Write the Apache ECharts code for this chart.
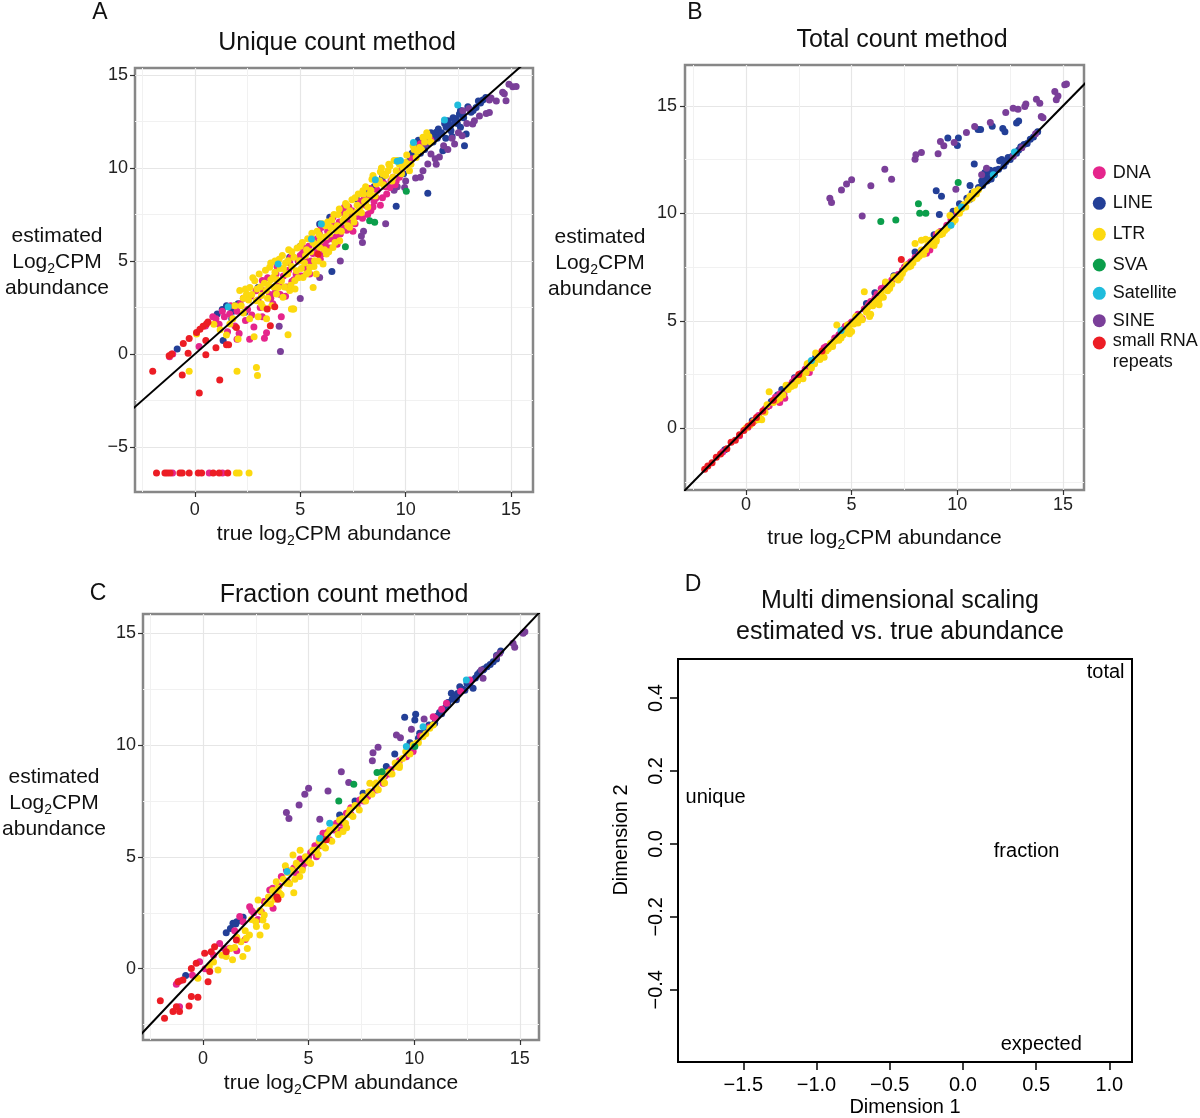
<!DOCTYPE html>
<html><head><meta charset="utf-8">
<script src="https://cdn.jsdelivr.net/npm/echarts@6/dist/echarts.min.js"></script>
<style>html,body{margin:0;padding:0;background:#fff}#c{width:1200px;height:1118px}</style>
</head><body><div id="c"></div>
<script>
// ---------- categories / colours ----------
const CATS = ['DNA','LINE','LTR','SVA','Satellite','SINE','small RNA repeats'];
const COLORS = ['#e5258c','#233f97','#fcd90f','#0b9e4b','#1fbcdc','#7a3f99','#ec1d25'];

// ---------- panel A : unique count method ----------
const uniqueDNA = [[-1.2,-0.15],[-1.05,0.0],[0.2,0.4],[0.85,2.0],[1.15,1.6],[1.65,2.15],[1.9,1.5],[2.0,2.3],[2.3,3.0],[2.5,2.4],[2.8,1.45],[3.3,0.85],[3.4,1.15],[4.1,2.0],[2.9,3.4],[3.2,3.95],[3.55,3.2],[3.85,4.3],[4.0,3.7],[4.35,3.6],[4.5,4.9],[4.8,4.3],[5.0,5.3],[5.1,5.4],[5.3,4.6],[5.5,5.0],[5.75,5.7],[5.9,6.5],[6.1,5.4],[6.25,6.1],[6.4,5.7],[6.55,7.35],[6.7,6.3],[6.9,6.45],[7.05,7.6],[7.2,6.65],[7.4,7.35],[7.6,7.0],[7.8,7.9],[8.0,8.3],[8.2,7.5],[8.45,7.9],[8.6,8.4],[8.9,8.4],[9.05,9.0],[9.25,8.95],[9.4,9.5],[9.55,9.3],[1.3,2.3],[2.1,1.1],[3.0,2.9],[3.7,2.7],[4.6,3.9],[5.6,4.9],[6.0,6.8],[7.3,7.9],[8.3,8.9],[9.7,9.5],[10.3,10.5],[10.7,11.3],[11.2,11.5],[1.0,1.9],[1.4,2.0],[1.55,1.2],[2.15,2.7],[2.4,1.8],[2.65,3.1],[2.7,2.1],[3.1,2.5],[3.25,3.4],[3.45,4.1],[3.6,3.0],[3.8,3.3],[3.9,4.7],[4.05,3.2],[4.2,4.2],[4.3,3.1],[4.45,4.5],[4.55,5.2],[4.7,4.0],[4.9,5.0],[5.05,4.2],[5.15,5.7],[5.25,5.0],[5.4,5.8],[5.45,4.3],[5.6,5.4],[5.8,6.2],[5.95,5.1],[6.05,6.0],[6.2,5.8],[6.3,6.6],[6.45,6.2],[6.6,6.9],[6.75,5.9],[6.85,7.1],[7.0,6.8],[7.1,7.9],[7.3,7.1],[7.45,7.7],[7.5,6.6],[7.7,7.4],[7.85,8.2],[7.95,7.3],[8.1,8.0],[8.25,8.5],[8.35,7.7],[8.5,8.2],[8.65,8.8],[8.8,8.0],[8.95,9.2],[9.1,8.6],[9.3,9.3],[9.5,9.1],[9.8,9.9],[10.1,10.2],[1.7,2.6],[2.0,0.8],[2.6,0.8],[0.5,1.5],[3.2,2.0],[-1.06,-6.4],[0.68,-6.4],[1.31,-6.4]];
const uniqueLINE = [[-0.84,0.27],[1.06,2.15],[1.34,0.72],[1.5,2.6],[1.66,2.51],[1.9,2.6],[2.05,2.7],[2.37,2.24],[3.0,3.58],[4.5,5.2],[5.0,5.8],[5.92,6.99],[6.4,7.35],[6.5,4.44],[7.66,8.33],[8.26,8.69],[9.55,7.94],[9.9,9.7],[10.18,10.39],[10.5,10.93],[10.82,11.29],[11.05,8.64],[11.13,11.65],[11.29,11.74],[11.45,11.92],[11.6,11.85],[11.76,10.93],[11.92,12.19],[12.05,12.3],[12.15,12.0],[12.32,12.46],[12.4,12.65],[12.55,12.9],[12.79,11.2],[12.87,11.83],[13.1,13.0],[13.34,13.26],[13.66,13.66],[12.7,12.85],[11.3,11.4],[10.9,11.0],[11.5,11.6],[12.0,12.55],[10.6,11.5],[10.3,10.8],[8.9,9.5],[8.5,9.0],[10.4,10.6],[10.55,11.1],[10.7,10.8],[10.85,11.5],[11.0,11.3],[11.2,11.9],[11.35,11.6],[11.55,12.1],[11.7,11.9],[11.85,12.4],[12.1,12.2],[12.25,12.7],[12.45,12.4],[12.6,13.1],[12.75,12.7],[12.95,13.3],[13.2,13.1],[13.45,13.6],[13.55,13.5],[13.8,13.8],[12.2,11.7],[11.9,11.6],[12.6,12.2],[1.8,2.3],[1.3,2.4],[1.75,1.9]];
const uniqueLTR = [[2.13,3.41],[2.45,3.23],[2.61,3.58],[2.84,3.94],[2.92,2.87],[3.16,3.14],[3.24,2.51],[3.39,3.41],[3.55,4.66],[3.71,4.12],[3.87,3.23],[3.95,3.58],[4.11,3.94],[4.18,3.05],[4.34,4.3],[4.42,5.02],[4.5,3.41],[4.66,2.42],[4.74,3.94],[4.82,4.48],[4.97,5.02],[5.13,4.12],[5.29,4.3],[5.45,4.66],[5.61,3.58],[5.68,5.02],[5.76,4.3],[5.92,5.73],[6.08,4.84],[6.24,5.38],[6.4,6.45],[6.55,5.73],[6.71,6.63],[6.87,6.09],[7.03,7.17],[7.18,7.53],[7.34,6.81],[7.5,7.35],[7.66,7.62],[7.82,7.89],[7.97,8.78],[8.13,8.24],[8.29,8.6],[8.61,9.14],[8.76,9.32],[8.92,9.68],[9.16,9.86],[9.4,9.5],[9.55,9.86],[9.87,10.04],[10.18,9.86],[10.5,10.57],[10.66,11.11],[10.82,11.65],[-0.27,-0.93],[2.0,-0.93],[2.92,-0.72],[2.97,-1.15],[2.81,0.93],[2.05,0.81],[4.42,1.04],[4.58,2.42],[4.69,2.42],[1.5,1.02],[0.08,1.08],[1.8,1.9],[2.3,2.2],[2.6,1.9],[3.0,2.0],[3.4,1.9],[1.9,2.6],[2.3,3.0],[3.1,3.6],[3.6,4.0],[3.8,4.4],[4.2,4.6],[4.0,5.1],[4.6,5.5],[5.0,5.8],[5.3,5.6],[5.6,6.0],[5.9,6.4],[6.2,6.9],[6.5,7.2],[6.8,7.5],[7.2,8.0],[7.6,8.4],[8.0,8.6],[8.4,9.4],[8.8,9.8],[9.2,10.2],[9.6,10.4],[10.0,10.3],[10.4,11.0],[11.0,11.9],[11.2,11.4],[1.66,1.61],[1.2,1.3],[0.9,1.6],[2.2,2.6],[2.4,3.5],[2.55,2.9],[2.7,3.2],[2.75,4.1],[2.95,3.5],[3.05,4.3],[3.15,2.7],[3.3,3.8],[3.35,4.5],[3.45,3.0],[3.5,3.7],[3.6,4.9],[3.65,2.6],[3.75,3.6],[3.8,5.0],[3.9,4.0],[4.05,4.6],[4.15,5.3],[4.25,3.6],[4.3,4.9],[4.4,4.3],[4.45,5.6],[4.55,3.7],[4.6,4.7],[4.7,5.2],[4.75,3.5],[4.85,5.7],[4.9,4.1],[5.05,4.6],[5.1,6.0],[5.2,4.9],[5.25,5.3],[5.35,6.2],[5.4,4.4],[5.5,5.5],[5.55,6.5],[5.65,4.7],[5.7,5.9],[5.8,6.6],[5.85,5.0],[5.95,6.1],[6.05,7.0],[6.15,5.6],[6.2,6.3],[6.3,7.1],[6.35,5.5],[6.45,6.8],[6.6,7.5],[6.65,6.0],[6.75,6.9],[6.85,7.8],[6.95,6.6],[7.1,7.3],[7.15,8.1],[7.25,6.9],[7.35,7.7],[7.45,8.3],[7.55,7.1],[7.7,8.0],[7.75,8.6],[7.9,7.6],[8.05,8.2],[8.1,9.0],[8.2,7.9],[8.35,8.8],[8.45,9.6],[8.55,8.5],[8.7,9.2],[8.85,10.0],[8.95,9.1],[9.05,9.6],[9.25,10.1],[9.35,9.3],[9.45,10.4],[9.7,10.2],[9.8,9.7],[10.05,10.7],[10.25,10.2],[10.35,11.2],[10.55,10.9],[10.75,11.0],[10.9,11.4],[11.1,11.7],[1.97,-6.4],[2.1,-6.4],[2.57,-6.4]];
const uniqueSVA = [[7.14,5.77],[8.29,7.17],[8.53,7.08],[10.03,8.75]];
const uniqueSAT = [[1.58,2.54],[3.95,4.84],[5.53,6.18],[6.0,6.99],[8.56,9.37],[9.6,10.36],[9.75,10.4],[10.37,11.38],[11.84,12.58],[12.47,13.39]];
const uniqueSINE = [[4.06,0.14],[4.0,1.49],[5.0,2.99],[5.92,4.12],[6.9,5.0],[7.9,6.35],[7.95,6.0],[8.0,6.6],[9.05,7.0],[9.95,8.96],[10.0,9.3],[10.47,9.46],[10.82,9.86],[11.05,10.22],[11.4,10.5],[11.6,10.6],[10.94,11.29],[11.2,10.75],[12.32,11.29],[12.68,11.74],[12.71,13.08],[13.0,13.2],[13.18,12.37],[13.26,12.55],[13.82,12.94],[13.97,12.99],[13.97,13.66],[14.05,13.77],[14.6,14.07],[14.68,14.0],[14.76,13.62],[15.08,14.37],[15.24,14.39],[9.6,9.0],[9.45,8.8],[11.8,11.2],[12.0,11.0],[12.2,11.6],[12.5,11.9],[13.5,12.8],[12.9,12.4],[11.45,10.2],[10.7,9.5],[14.3,13.6],[14.9,14.5]];
const uniqueRNA = [[-2.0,-0.93],[-1.22,-0.09],[-1.1,0.0],[-0.55,0.57],[-0.27,0.84],[0.08,1.16],[0.24,1.33],[0.39,1.49],[0.55,1.61],[0.62,1.72],[-0.32,0.04],[-0.6,-1.13],[0.21,-2.1],[0.52,-0.04],[0.52,0.72],[1.0,0.34],[1.18,-1.4],[1.5,0.5],[1.6,0.5],[1.97,1.43],[3.43,2.42],[3.58,1.52],[3.79,2.54],[5.84,5.38],[-1.82,-6.4],[-1.42,-6.4],[-1.31,-6.4],[-1.18,-6.4],[-0.71,-6.4],[-0.6,-6.4],[-0.27,-6.4],[0.16,-6.4],[0.32,-6.4],[0.87,-6.4],[1.15,-6.4],[1.56,-6.4]];

// ---------- panel B : total count method ----------
const totalDNA = [[-1.1,-1.1],[-0.3,-0.35],[0.4,0.35],[0.9,0.9],[1.4,1.45],[1.8,1.6],[1.84,1.4],[2.0,2.0],[2.3,2.3],[2.6,2.55],[2.9,2.95],[3.2,3.1],[3.5,3.45],[3.8,3.8],[4.1,4.0],[4.4,4.35],[4.7,4.75],[5.0,4.95],[5.3,5.3],[5.6,5.55],[5.9,5.9],[6.2,6.25],[6.4,6.5],[6.6,6.7],[6.9,6.9],[7.2,7.15],[7.5,7.5],[7.8,7.75],[8.0,7.95],[8.2,8.1],[8.4,8.2],[8.54,8.14],[8.6,8.35],[9.0,9.0],[9.5,9.45],[1.6,1.2],[3.0,2.6],[5.5,5.1],[0.1,0.05],[0.6,0.6],[1.1,1.05],[1.6,1.6],[2.2,2.15],[2.8,2.75],[3.4,3.35],[3.7,3.75],[4.2,4.2],[4.5,4.45],[4.9,4.85],[5.2,5.15],[5.8,5.75],[6.1,6.05],[6.7,6.6],[7.1,7.05],[7.4,7.35],[7.7,7.65],[8.3,8.15],[8.5,8.2],[8.7,8.3],[8.8,8.6],[9.2,9.15],[9.7,9.7],[10.0,10.0]];
const totalLINE = [[-1.0,-1.0],[0.3,0.35],[1.2,1.25],[1.5,1.55],[1.7,1.8],[2.3,2.35],[6.1,6.3],[8.0,8.2],[9.0,11.05],[9.25,10.8],[9.15,9.95],[9.55,13.5],[10.0,13.15],[10.05,13.5],[10.8,12.3],[10.98,13.9],[11.1,13.9],[11.65,14.05],[12.15,13.95],[12.25,13.8],[12.8,14.2],[12.9,14.3],[9.8,10.1],[10.1,10.45],[10.45,10.7],[10.7,10.95],[11.0,11.2],[11.25,11.65],[11.35,11.8],[11.5,11.75],[11.6,11.6],[11.8,12.0],[12.0,12.45],[12.2,12.2],[12.5,12.5],[12.8,12.8],[13.0,13.1],[13.3,13.25],[13.6,13.55],[11.4,11.5],[11.7,11.85],[12.4,12.6],[10.3,10.35],[10.6,10.65],[10.9,11.0],[11.2,11.3],[11.45,11.55],[11.75,11.8],[11.95,12.05],[12.3,12.4],[12.6,12.65],[12.9,12.95],[13.15,13.2],[13.45,13.45],[13.8,13.8],[11.15,11.5],[11.3,11.9],[11.55,12.0],[12.1,12.5],[10.6,11.3],[1.0,1.0],[3.3,3.3],[4.6,4.6],[5.7,5.8],[7.0,7.1],[8.9,9.0]];
const totalLTR = [[0.2,0.15],[0.7,0.45],[0.75,0.4],[1.1,1.7],[1.3,1.2],[1.6,1.4],[2.0,1.8],[2.3,2.0],[2.6,2.4],[2.7,2.3],[3.1,2.8],[3.3,3.5],[3.5,3.2],[3.8,3.6],[4.1,3.8],[4.3,4.8],[4.5,4.2],[4.6,4.35],[4.9,4.6],[5.0,4.5],[5.3,4.9],[5.5,5.05],[5.6,6.35],[5.85,5.2],[6.0,5.7],[6.3,6.0],[6.5,6.1],[6.6,6.8],[6.8,6.5],[7.0,7.05],[7.2,6.9],[7.5,7.4],[7.7,7.5],[8.0,8.6],[8.1,7.9],[8.4,8.1],[8.7,8.75],[8.9,8.5],[9.2,9.0],[9.3,9.05],[9.6,9.4],[9.65,9.9],[9.9,9.7],[10.0,10.15],[10.3,10.4],[10.6,10.8],[10.8,11.0],[3.7,3.3],[4.0,3.95],[5.2,5.0],[2.9,3.0],[1.9,2.0],[0.0,0.0],[0.35,0.3],[0.55,0.4],[0.9,0.75],[1.0,1.1],[1.45,1.3],[1.75,1.55],[2.15,1.95],[2.45,2.2],[2.85,2.6],[3.0,3.05],[3.25,3.0],[3.4,3.3],[3.6,3.5],[3.9,3.7],[4.2,4.05],[4.4,4.1],[4.7,4.45],[4.8,4.8],[5.1,4.85],[5.2,5.2],[5.4,5.2],[5.7,5.4],[5.75,5.6],[6.1,5.9],[6.2,5.85],[6.4,6.3],[6.7,6.4],[6.9,6.7],[7.1,7.0],[7.3,7.0],[7.4,7.2],[7.6,7.6],[7.8,7.55],[7.9,7.7],[8.2,8.0],[8.3,8.3],[8.5,8.3],[8.6,8.5],[8.8,8.6],[9.0,8.8],[9.1,9.1],[9.4,9.2],[9.5,9.3],[9.8,9.6],[10.1,10.0],[10.2,10.2],[10.4,10.3],[10.5,10.6],[10.7,10.7],[10.9,10.9],[11.0,11.1],[8.3,8.75],[8.5,8.8],[4.9,4.4],[5.9,5.3],[6.3,5.75],[9.0,8.7]];
const totalSVA = [[6.38,9.62],[7.09,9.69],[8.16,10.44],[8.22,10.0],[8.51,10.0],[10.04,11.43]];
const totalSAT = [[3.1,3.15],[4.5,4.55],[9.7,9.45],[10.2,10.3],[11.7,11.8],[12.7,12.85]];
const totalSINE = [[3.97,10.7],[4.05,10.5],[4.52,11.09],[4.76,11.37],[5.0,11.56],[5.5,9.88],[5.91,11.28],[6.57,12.05],[6.89,11.59],[8.0,12.52],[8.04,12.72],[8.3,12.83],[9.09,12.77],[9.2,13.34],[9.36,13.14],[9.85,13.29],[9.93,11.12],[10.43,13.76],[10.82,14.04],[11.38,12.1],[11.15,11.8],[11.56,14.22],[12.29,14.69],[12.64,14.89],[12.87,14.84],[13.19,14.97],[13.24,15.09],[13.74,15.31],[13.9,15.12],[13.97,14.5],[14.05,14.45],[14.61,15.67],[14.68,15.28],[14.76,15.46],[15.08,15.98],[15.16,16.02],[12.65,12.65],[13.05,13.05],[13.7,13.7]];
const totalRNA = [[-1.95,-1.9],[-1.8,-1.75],[-1.6,-1.6],[-1.4,-1.35],[-1.2,-1.2],[-0.9,-0.95],[-0.7,-0.65],[-0.5,-0.55],[-0.3,-0.3],[-0.1,-0.1],[0.1,0.1],[0.3,0.25],[0.5,0.5],[0.8,0.8],[1.3,1.3],[2.5,2.5],[3.6,3.6],[7.35,7.85]];

// ---------- panel C : fraction count method ----------
const fractionDNA = [[-1.26,-0.7],[-1.1,-0.55],[-1.11,-1.7],[-0.16,0.31],[0.79,1.13],[1.26,0.91],[1.74,2.33],[2.21,2.77],[2.76,2.55],[3.16,3.52],[3.32,2.7],[3.71,4.12],[3.95,4.41],[4.42,4.26],[4.82,4.71],[5.37,5.01],[5.68,6.05],[6.0,5.76],[6.32,6.5],[6.79,6.95],[7.42,7.54],[8.21,7.99],[8.53,8.29],[9.16,9.18],[9.63,9.48],[9.95,9.71],[10.9,11.27],[11.53,11.87],[12.63,12.91],[2.4,2.5],[3.5,3.2],[4.6,4.9],[5.1,5.2],[6.5,6.2],[7.0,7.2],[7.8,7.7],[8.8,8.7],[-0.5,-0.3],[0.1,0.0],[0.5,0.6],[1.0,0.9],[1.5,1.7],[1.9,2.1],[2.3,2.6],[2.6,2.2],[2.9,3.0],[3.3,3.6],[3.6,3.7],[4.0,3.9],[4.3,4.5],[4.7,4.5],[5.0,5.0],[5.3,5.5],[5.6,5.5],[5.9,6.1],[6.2,6.2],[6.6,6.5],[7.0,6.9],[7.3,7.3],[7.6,7.5],[7.9,7.9],[8.2,8.1],[8.6,8.6],[8.9,8.9],[9.3,9.3],[9.9,9.9],[10.3,10.4],[10.7,10.8],[11.0,11.2],[11.3,11.6],[12.2,12.4],[1.6,0.8],[2.0,1.3]];
const fractionLINE = [[-0.82,-0.31],[1.1,1.61],[1.42,2.03],[1.6,2.1],[1.82,2.18],[6.47,6.87],[7.58,7.84],[8.68,9.04],[9.08,9.6],[9.55,11.24],[10.07,11.38],[10.03,11.12],[10.26,10.53],[10.97,10.97],[11.1,11.3],[11.37,11.57],[11.76,12.32],[12.0,12.02],[12.16,12.61],[12.3,12.5],[12.63,12.69],[12.79,12.54],[13.26,13.36],[13.74,13.73],[11.2,11.45],[11.5,11.7],[11.9,12.15],[12.5,12.75],[12.9,13.0],[13.1,13.25],[13.45,13.5],[13.9,14.0],[10.5,10.7],[10.7,10.9],[11.0,11.15],[11.3,11.4],[11.6,11.9],[11.8,12.05],[12.05,12.3],[12.4,12.45],[12.7,12.9],[13.0,13.15],[13.3,13.4],[13.6,13.6],[13.9,13.85],[14.1,14.2],[10.2,10.3],[9.8,10.1],[1.3,1.8],[1.55,2.0],[1.9,2.3],[5.8,6.0],[7.2,7.5]];
const fractionLTR = [[-0.24,-0.43],[0.3,0.1],[0.71,-0.06],[1.1,0.54],[1.5,0.95],[1.89,0.54],[2.05,1.36],[2.2,1.5],[2.53,1.88],[2.61,3.07],[2.84,2.18],[3.0,2.92],[3.47,3.89],[3.63,3.37],[3.95,3.82],[4.26,5.08],[4.42,4.71],[4.58,4.12],[5.0,4.8],[5.37,5.31],[5.7,5.5],[6.0,6.2],[6.47,6.65],[6.63,6.13],[6.8,6.3],[6.95,7.1],[7.58,7.69],[7.9,8.29],[8.53,8.59],[9.16,9.04],[9.3,9.1],[10.1,10.08],[10.42,10.38],[10.74,10.75],[3.3,3.5],[4.0,4.3],[5.5,5.7],[8.2,8.3],[9.6,9.7],[0.5,0.3],[0.9,0.6],[1.3,0.9],[1.6,1.4],[1.8,1.2],[2.0,1.7],[2.3,2.2],[2.5,2.1],[2.7,2.6],[2.9,2.4],[3.1,3.2],[3.2,2.9],[3.4,3.1],[3.55,3.6],[3.7,3.3],[3.8,4.0],[4.1,3.8],[4.2,4.4],[4.35,4.0],[4.5,4.6],[4.7,4.4],[4.85,5.0],[5.1,4.7],[5.2,5.3],[5.45,5.1],[5.6,5.7],[5.8,5.4],[5.9,6.0],[6.1,5.7],[6.25,6.3],[6.4,6.0],[6.6,6.7],[6.75,6.5],[6.9,6.9],[7.1,6.8],[7.2,7.3],[7.4,7.1],[7.55,7.6],[7.7,7.5],[7.85,7.9],[8.0,7.8],[8.15,8.2],[8.3,8.0],[8.45,8.5],[8.6,8.3],[8.8,8.8],[8.95,8.7],[9.1,9.2],[9.3,9.0],[9.45,9.4],[9.8,9.6],[9.95,10.0],[10.2,10.1],[10.55,10.5],[10.9,10.9],[1.4,0.4],[2.1,0.9],[2.7,1.5],[3.0,1.9],[4.3,3.4],[3.9,4.6],[4.6,5.3]];
const fractionSVA = [[6.43,7.5],[7.14,8.25],[8.24,8.77],[8.48,8.81],[10.03,9.93]];
const fractionSAT = [[3.98,4.34],[5.53,5.83],[6.0,6.5],[9.63,9.93],[10.42,10.82],[12.47,12.91]];
const fractionSINE = [[3.95,6.98],[4.07,6.72],[4.55,7.32],[4.82,7.8],[5.0,8.07],[5.53,6.68],[5.92,7.95],[6.55,8.81],[6.9,8.33],[8.02,9.3],[8.05,9.66],[8.29,9.9],[9.16,10.45],[9.35,10.33],[9.87,10.71],[10.47,11.17],[13.18,13.36],[13.26,12.99],[13.9,13.96],[14.05,14.1],[14.68,14.55],[14.76,14.37],[15.16,15.0],[15.24,15.07]];
const fractionRNA = [[-2.02,-1.43],[-1.82,-2.22],[-1.42,-1.92],[-1.26,-1.7],[-1.11,-1.92],[-0.66,-1.67],[-0.55,-1.25],[-0.24,-1.28],[-1.18,-0.58],[-0.95,-0.51],[-0.55,0.01],[-0.32,0.24],[0.24,-0.58],[0.32,-0.13],[0.08,0.69],[0.39,0.76],[0.55,0.98],[1.1,0.76],[1.58,1.28],[3.55,3.1],[3.5,3.2],[5.84,5.76]];

// ---------- panel D : MDS ----------
const mdsLabels = ['unique','total','fraction','expected'];
const mdsDim1 = [-1.689, 0.975, 0.435, 0.535];
const mdsDim2 = [0.127, 0.47, -0.021, -0.55];

// ---------- tick labels ----------
const ticksXAll = [0,5,10,15];
const ticksYA = [-5,0,5,10,15];
const ticksYBC = [0,5,10,15];
const ticksMdsX = [-1.5,-1.0,-0.5,0.0,0.5,1.0];
const ticksMdsY = [-0.4,-0.2,0.0,0.2,0.4];

const FONT = '"Liberation Sans", Arial, Helvetica, sans-serif';
const minus = v => (v < 0 ? '\u2212' : '') + Math.abs(v);
const minus1 = v => (v < 0 ? '\u2212' : '') + Math.abs(v).toFixed(1);

const panels = [
  [uniqueDNA, uniqueLINE, uniqueLTR, uniqueSVA, uniqueSAT, uniqueSINE, uniqueRNA],
  [totalDNA, totalLINE, totalLTR, totalSVA, totalSAT, totalSINE, totalRNA],
  [fractionDNA, fractionLINE, fractionLTR, fractionSVA, fractionSAT, fractionSINE, fractionRNA]
];
const DRAW_ORDER = [1,5,0,2,4,3,6];

const nameRich = {
  fontSize: 21, color: '#111', fontFamily: FONT, lineHeight: 26,
  rich: { s: { fontSize: 14, fontFamily: FONT, color: '#111', padding: [14,0,0,0], lineHeight: 26 } }
};

function ggAxis(gi, min, max, ticks, margin, extra) {
  return Object.assign({
    gridIndex: gi, type: 'value', min, max, splitNumber: 4, minInterval: 5, maxInterval: 5,
    axisLine: { show: false, onZero: false },
    axisTick: { show: true, customValues: ticks, length: 5, lineStyle: { color: '#333', width: 1.2 } },
    axisLabel: { customValues: ticks, margin, fontSize: 18, color: '#222', fontFamily: FONT, formatter: minus },
    splitLine: { show: true, lineStyle: { color: '#e6e6e6', width: 1.2 } },
    minorTick: { show: false, splitNumber: 2 },
    minorSplitLine: { show: true, lineStyle: { color: '#f1f1f1', width: 1 } }
  }, extra || {});
}

const grids = [
  { left: 135, top: 68, width: 398, height: 424 },
  { left: 685, top: 65, width: 399, height: 425 },
  { left: 143, top: 614, width: 396, height: 426 },
  { left: 678, top: 659, width: 454, height: 406 }
].map((g, i) => Object.assign(g, { show: true, borderColor: i < 3 ? '#878787' : '#000', borderWidth: i < 3 ? 2.5 : 2, backgroundColor: 'transparent', containLabel: false }));

const xName = 'true log{s|2}CPM abundance';
const xAxes = [
  ggAxis(0, -2.84, 16.04, ticksXAll, 9, { name: xName, nameLocation: 'middle', nameGap: 26, nameTextStyle: nameRich }),
  ggAxis(1, -2.88, 15.99, ticksXAll, 6, { name: xName, nameLocation: 'middle', nameGap: 35, nameTextStyle: nameRich }),
  ggAxis(2, -2.84, 15.91, ticksXAll, 10, { name: xName, nameLocation: 'middle', nameGap: 24, nameTextStyle: nameRich }),
  {
    gridIndex: 3, type: 'value', min: -1.946, max: 1.155,
    axisLine: { show: false, onZero: false },
    axisTick: { show: true, customValues: ticksMdsX, length: 8, lineStyle: { color: '#000', width: 1.5 } },
    axisLabel: { customValues: ticksMdsX, margin: 13, fontSize: 20, color: '#000', fontFamily: FONT, formatter: minus1 },
    splitLine: { show: false },
    name: 'Dimension 1', nameLocation: 'middle', nameGap: 35,
    nameTextStyle: { fontSize: 20, color: '#000', fontFamily: FONT }
  }
];
const yAxes = [
  ggAxis(0, -7.42, 15.38, ticksYA, 7),
  ggAxis(1, -2.87, 16.9, ticksYBC, 8),
  ggAxis(2, -3.19, 15.86, ticksYBC, 7),
  {
    gridIndex: 3, type: 'value', min: -0.598, max: 0.507,
    axisLine: { show: false, onZero: false },
    axisTick: { show: true, customValues: ticksMdsY, length: 8, lineStyle: { color: '#000', width: 1.5 } },
    axisLabel: { customValues: ticksMdsY, margin: 12, rotate: 90, fontSize: 20, color: '#000', fontFamily: FONT, formatter: minus1 },
    splitLine: { show: false }
  }
];

const series = [];
panels.forEach((p, pi) => {
  DRAW_ORDER.forEach(ci => {
    series.push({
      type: 'scatter', name: CATS[ci], xAxisIndex: pi, yAxisIndex: pi, data: p[ci],
      symbolSize: 7, itemStyle: { color: COLORS[ci], opacity: 1 }, silent: true, z: 2
    });
  });
  series.push({
    type: 'line', name: 'identity', xAxisIndex: pi, yAxisIndex: pi, data: [[-5,-5],[20,20]],
    symbol: 'none', lineStyle: { color: '#000', width: 2 }, silent: true, z: 4, clip: true
  });
});
series.push({
  type: 'scatter', name: 'MDS', xAxisIndex: 3, yAxisIndex: 3,
  data: mdsDim1.map((x, i) => ({ value: [x, mdsDim2[i]], name: mdsLabels[i] })),
  symbolSize: 0, itemStyle: { color: '#000' }, silent: true,
  label: { show: true, position: 'inside', formatter: '{b}', fontSize: 20, color: '#000', opacity: 1, textBorderWidth: 0, fontFamily: FONT }
});

// ---------- text layout (titles, axis titles, legend) ----------
function txt(x, y, text, size, extra) {
  return Object.assign({
    type: 'text', x, y, silent: true,
    style: Object.assign({ text, fontSize: size, fontFamily: FONT, fill: '#111', align: 'center', verticalAlign: 'middle' }, (extra && extra.style) || {})
  }, extra && extra.rotation ? { rotation: extra.rotation } : {});
}
const yTitle = 'estimated\nLog{s|2}CPM\nabundance';
const yTitleStyle = { style: { lineHeight: 26, rich: { s: { fontSize: 14, fontFamily: FONT, fill: '#111', padding: [14,0,0,0], lineHeight: 26 } } } };
const graphics = [
  txt(100, 13, 'A', 23), txt(695, 13, 'B', 23), txt(98, 594, 'C', 23), txt(693, 585, 'D', 23),
  txt(337, 43, 'Unique count method', 25),
  txt(902, 40, 'Total count method', 25),
  txt(344, 595, 'Fraction count method', 25),
  txt(900, 617, 'Multi dimensional scaling\nestimated vs. true abundance', 25, { style: { lineHeight: 31 } }),
  txt(57, 262, yTitle, 21, yTitleStyle),
  txt(600, 263, yTitle, 21, yTitleStyle),
  txt(54, 803, yTitle, 21, yTitleStyle),
  txt(621, 840, 'Dimension 2', 20, { rotation: Math.PI / 2, style: { fill: '#000' } })
];
const LEGEND_Y = [172.7, 203.3, 234.3, 265, 293.3, 320.7, 343];
const legendLabels = ['DNA','LINE','LTR','SVA','Satellite','SINE','small RNA\nrepeats'];
CATS.forEach((c, i) => {
  graphics.push({ type: 'circle', shape: { cx: 1099.3, cy: LEGEND_Y[i], r: 6.5 }, style: { fill: COLORS[i] }, silent: true });
  const last = i === CATS.length - 1;
  graphics.push({
    type: 'text', x: 1112.7, y: last ? 351.2 : LEGEND_Y[i], silent: true,
    style: { text: legendLabels[i], fontSize: 18, lineHeight: 21, fontFamily: FONT, fill: '#111', align: 'left', verticalAlign: 'middle' }
  });
});

const chart = echarts.init(document.getElementById('c'), null, { renderer: 'canvas' });
chart.setOption({
  animation: false,
  backgroundColor: '#fff',
  textStyle: { fontFamily: FONT },
  grid: grids,
  xAxis: xAxes,
  yAxis: yAxes,
  series,
  graphic: graphics
});
</script></body></html>
